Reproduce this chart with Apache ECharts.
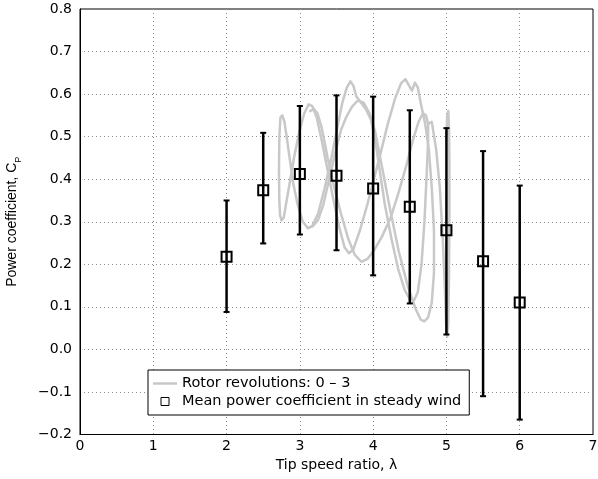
<!DOCTYPE html>
<html><head><meta charset="utf-8">
<script src="https://cdn.jsdelivr.net/npm/echarts@6/dist/echarts.min.js"></script>
<style>html,body{margin:0;padding:0;background:#fff}#c{width:598px;height:479px}</style>
</head><body><div id="c"></div>
<script>
// ---- tick labels ----
const lambdaTicks = ['0', '1', '2', '3', '4', '5', '6', '7'];
const cpTicks = ['\u22120.2', '\u22120.1', '0.0', '0.1', '0.2', '0.3', '0.4', '0.5', '0.6', '0.7', '0.8'];

// ---- mean power coefficient in steady wind (with ranges) ----
const meanLambda = [2, 2.5, 3, 3.5, 4, 4.5, 5, 5.5, 6];
const meanCp     = [0.218, 0.374, 0.412, 0.408, 0.378, 0.335, 0.280, 0.207, 0.110];
const cpLower    = [0.088, 0.249, 0.270, 0.233, 0.174, 0.108, 0.035, -0.110, -0.165];
const cpUpper    = [0.350, 0.509, 0.572, 0.597, 0.594, 0.562, 0.520, 0.466, 0.385];

// ---- rotor revolutions 0-3 trajectory (lambda, Cp) ----
const revPathA = [
  [2.75,0.303],[2.78,0.31],[2.81,0.34],[2.86,0.39],[2.92,0.45],[2.99,0.51],[3.06,0.555],[3.12,0.576],
  [3.17,0.572],[3.23,0.545],[3.30,0.49],[3.38,0.42],[3.46,0.35],[3.54,0.285],[3.61,0.24],[3.67,0.226],
  [3.73,0.235],[3.82,0.28],[3.92,0.34],[4.01,0.40],[4.10,0.46],[4.20,0.53],[4.30,0.59],[4.38,0.625],
  [4.44,0.635],[4.49,0.62],[4.53,0.608],[4.57,0.627],[4.61,0.615],[4.66,0.57],[4.71,0.53],[4.76,0.47],
  [4.80,0.38],[4.83,0.28],[4.83,0.18],[4.80,0.11],[4.75,0.075],[4.70,0.066],[4.65,0.07],
  [4.58,0.095],[4.47,0.15],[4.35,0.23],[4.23,0.33],[4.12,0.43],[4.03,0.51],[3.95,0.555],[3.87,0.58],
  [3.79,0.585],[3.71,0.57],[3.63,0.545],[3.56,0.515],[3.48,0.46],[3.40,0.40],[3.32,0.34],[3.25,0.305],
  [3.18,0.29],[3.11,0.285],[3.04,0.30],[2.97,0.34],[2.91,0.39],[2.86,0.45],[2.82,0.50],[2.79,0.535],
  [2.76,0.55],[2.735,0.545],[2.72,0.50],[2.715,0.42],[2.72,0.35],[2.73,0.315],[2.75,0.303]
];
const revPathB = [
  [3.11,0.285],[3.17,0.29],[3.25,0.32],[3.34,0.38],[3.43,0.45],[3.51,0.52],[3.58,0.58],[3.64,0.615],
  [3.69,0.63],[3.73,0.62],[3.77,0.595],[3.82,0.583],[3.90,0.565],[3.97,0.54],[4.03,0.49],[4.09,0.42],
  [4.16,0.34],[4.25,0.26],[4.34,0.19],[4.43,0.14],[4.50,0.118],[4.56,0.116],[4.61,0.135],[4.66,0.20],
  [4.70,0.30],[4.73,0.41],[4.75,0.49],[4.75,0.53],[4.72,0.55],[4.68,0.555],
  [4.62,0.535],[4.54,0.49],[4.45,0.43],[4.35,0.37],[4.24,0.31],[4.12,0.265],[4.02,0.235],[3.92,0.212],
  [3.84,0.206],[3.75,0.222],[3.66,0.26],[3.56,0.32],[3.47,0.38],[3.38,0.45],[3.30,0.52],[3.24,0.555],
  [3.19,0.565],[3.14,0.56]
];
const revPathC = [
  [4.75,0.53],[4.80,0.535],[4.86,0.47],[4.91,0.38],[4.95,0.26],[4.98,0.14],[4.995,0.06],[5.01,0.03],
  [5.025,0.06],[5.035,0.17],[5.04,0.31],[5.04,0.44],[5.035,0.52],[5.025,0.56],[5.01,0.55],[5.0,0.50]
];

const revName = 'Rotor revolutions: 0 \u2013 3';
const meanName = 'Mean power coefficient in steady wind';
const FONT = 'DejaVu Sans';

const chart = echarts.init(document.getElementById('c'), null, {renderer: 'canvas'});

function revSeries(data) {
  return {
    name: revName, type: 'line', data: data, smooth: false, showSymbol: false, symbol: 'none',
    lineStyle: {color: '#c8c8c8', width: 2.5, join: 'round', cap: 'round'}, itemStyle: {color: '#c8c8c8'},
    z: 2, silent: true, animation: false
  };
}

const option = {
  animation: false,
  backgroundColor: '#fff',
  grid: {left: 80, right: 5, top: 9, bottom: 44.5, show: true, borderColor: '#000', borderWidth: 1,
         backgroundColor: '#fff', outerBoundsMode: 'none', containLabel: false},
  xAxis: {
    type: 'value', min: 0, max: 7, interval: 1,
    name: 'Tip speed ratio, \u03bb', nameLocation: 'middle', nameGap: 20,
    nameTextStyle: {fontFamily: FONT, fontSize: 14, color: '#000'},
    axisLine: {show: true, onZero: false, lineStyle: {color: '#000', width: 1}},
    axisTick: {show: false},
    axisLabel: {fontFamily: FONT, fontSize: 14, color: '#000', margin: 5,
                formatter: v => lambdaTicks[Math.round(v)]},
    splitLine: {show: true, showMinLine: false, showMaxLine: false,
                lineStyle: {color: '#8c8c8c', width: 1, type: [1, 3]}}
  },
  yAxis: {
    type: 'value', min: -0.2, max: 0.8, interval: 0.1,
    name: 'Power coefficient, C{sub|P}', nameLocation: 'middle', nameGap: 57, nameRotate: 90,
    nameTextStyle: {fontFamily: 'Liberation Sans', fontSize: 14, color: '#000',
                    rich: {sub: {fontFamily: 'Liberation Sans', fontSize: 9, color: '#000', verticalAlign: 'bottom', lineHeight: 22}}},
    axisLine: {show: true, onZero: false, lineStyle: {color: '#000', width: 1}},
    axisTick: {show: false},
    axisLabel: {fontFamily: FONT, fontSize: 14, color: '#000', margin: 8,
                formatter: v => cpTicks[Math.round((v + 0.2) * 10)]},
    splitLine: {show: true, showMinLine: false, showMaxLine: false,
                lineStyle: {color: '#8c8c8c', width: 1, type: [1, 3]}}
  },
  legend: {
    show: true, orient: 'vertical', left: 148, top: 370,
    backgroundColor: '#fff', borderColor: '#000', borderWidth: 1,
    padding: [6, 8, 6, 5], itemGap: 3, itemWidth: 24, itemHeight: 8,
    symbolKeepAspect: true,
    textStyle: {fontFamily: FONT, fontSize: 14.5, color: '#000'},
    selectedMode: false,
    data: [
      {name: revName, icon: 'path://M0 0H24V2.5H0Z', itemStyle: {color: '#c8c8c8', borderWidth: 0}},
      {name: meanName, icon: 'path://M0 0H8V8H0Z', itemStyle: {color: 'transparent', borderColor: '#000', borderWidth: 1}}
    ]
  },
  series: [
    revSeries(revPathA),
    revSeries(revPathB),
    revSeries(revPathC),
    {
      name: 'range', type: 'custom', z: 3, silent: true,
      data: meanLambda.map((x, i) => [x, cpLower[i], cpUpper[i]]),
      encode: {x: 0, y: [1, 2]},
      renderItem: function (params, api) {
        const x = api.value(0);
        const lo = api.coord([x, api.value(1)]);
        const hi = api.coord([x, api.value(2)]);
        const hw = 3;
        const st = {stroke: '#000', lineWidth: 2.5};
        const cs = {stroke: '#000', lineWidth: 2};
        return {type: 'group', children: [
          {type: 'line', shape: {x1: hi[0], y1: hi[1], x2: lo[0], y2: lo[1]}, style: st},
          {type: 'line', shape: {x1: hi[0] - hw, y1: hi[1], x2: hi[0] + hw, y2: hi[1]}, style: cs},
          {type: 'line', shape: {x1: lo[0] - hw, y1: lo[1], x2: lo[0] + hw, y2: lo[1]}, style: cs}
        ]};
      }
    },
    {
      name: meanName, type: 'scatter', z: 4, silent: true,
      data: meanLambda.map((x, i) => [x, meanCp[i]]),
      symbol: 'rect', symbolSize: 10,
      itemStyle: {color: 'transparent', borderColor: '#000', borderWidth: 2, opacity: 1}
    }
  ]
};
chart.setOption(option);
</script>
</body></html>
